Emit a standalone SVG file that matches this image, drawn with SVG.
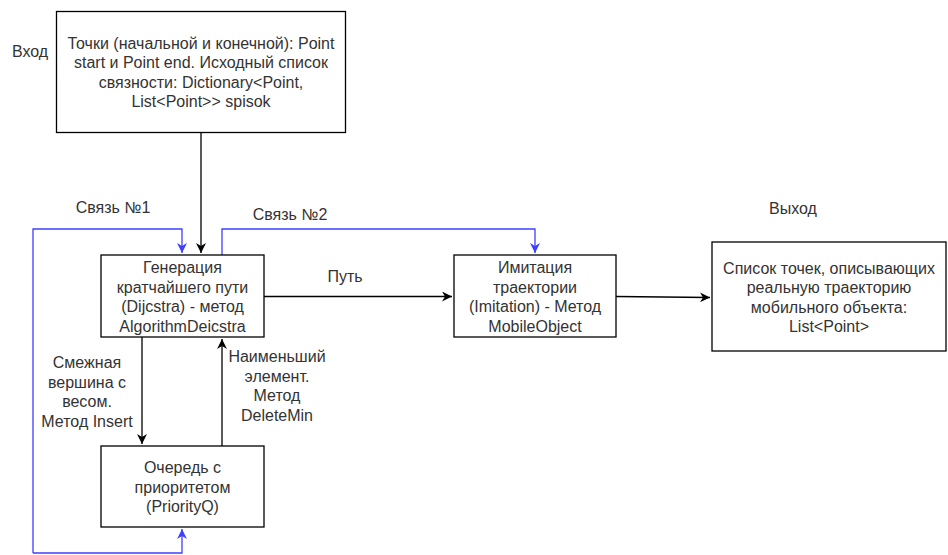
<svg xmlns="http://www.w3.org/2000/svg" width="948" height="555" viewBox="0 0 948 555">
<style>
.box{fill:#fff;stroke:#000;stroke-width:1.3}
.t{font-family:"Liberation Sans",Arial,sans-serif;font-size:16px;fill:#333;text-anchor:middle;dominant-baseline:central}
.k{fill:none;stroke:#000;stroke-width:1.3}
.b{fill:none;stroke:#3f3fff;stroke-width:1.3}
</style>
<defs>
<marker id="ak" markerWidth="12" markerHeight="10" refX="10" refY="5" orient="auto" markerUnits="userSpaceOnUse"><path d="M0,0 L10,5 L0,10 L3,5 Z" fill="#000"/></marker>
<marker id="ab" markerWidth="12" markerHeight="10" refX="10" refY="5" orient="auto" markerUnits="userSpaceOnUse"><path d="M0,0 L10,5 L0,10 L3,5 Z" fill="#3f3fff"/></marker>
</defs>
<rect width="948" height="555" fill="#fff"/>
<g id="connectors">
<path class="k" d="M201,132 V253" marker-end="url(#ak)"/>
<path class="b" d="M33,553 V229 H182 V253" marker-end="url(#ab)"/>
<path class="b" d="M33,553 H182 V529" marker-end="url(#ab)"/>
<path class="b" d="M222,255 V229 H535 V253" marker-end="url(#ab)"/>
<path class="k" d="M264,296.5 H452" marker-end="url(#ak)"/>
<path class="k" d="M616,296.5 L710,297.5" marker-end="url(#ak)"/>
<path class="k" d="M142,337 V444" marker-end="url(#ak)"/>
<path class="k" d="M222,446 V339" marker-end="url(#ak)"/>
</g>
<g id="lbl-vhod"><text class="t" x="30" y="51">Вход</text></g>
<g id="lbl-vyhod"><text class="t" x="793" y="208">Выход</text></g>
<g id="lbl-sv1"><text class="t" x="113" y="207">Связь №1</text></g>
<g id="lbl-sv2"><text class="t" x="290" y="214">Связь №2</text></g>
<g id="lbl-put"><text class="t" x="345" y="276">Путь</text></g>
<g id="lbl-insert"><text class="t" x="87"><tspan x="87" y="362">Смежная</tspan><tspan x="87" y="381.5">вершина с</tspan><tspan x="87" y="401">весом.</tspan><tspan x="87" y="420.5">Метод Insert</tspan></text></g>
<g id="lbl-delmin"><text class="t" x="277"><tspan x="277" y="356">Наименьший</tspan><tspan x="277" y="375.5">элемент.</tspan><tspan x="277" y="395">Метод</tspan><tspan x="277" y="414.5">DeleteMin</tspan></text></g>
<g id="n-input">
<rect class="box" x="56.5" y="11.5" width="289" height="121"/>
<text class="t"><tspan x="201" y="42.5">Точки (начальной и конечной): Point</tspan><tspan x="201" y="62">start и Point end. Исходный список</tspan><tspan x="201" y="81.5">связности: Dictionary&lt;Point,</tspan><tspan x="201" y="101">List&lt;Point&gt;&gt; spisok</tspan></text>
</g>
<g id="n-dijkstra">
<rect class="box" x="101" y="255" width="163" height="82"/>
<text class="t"><tspan x="182.5" y="267">Генерация</tspan><tspan x="182.5" y="286.5">кратчайшего пути</tspan><tspan x="182.5" y="306">(Dijcstra) - метод</tspan><tspan x="182.5" y="325.5">AlgorithmDeicstra</tspan></text>
</g>
<g id="n-imitation">
<rect class="box" x="454" y="255" width="162" height="82"/>
<text class="t"><tspan x="535" y="267">Имитация</tspan><tspan x="535" y="286.5">траектории</tspan><tspan x="535" y="306">(Imitation) - Метод</tspan><tspan x="535" y="325.5">MobileObject</tspan></text>
</g>
<g id="n-output">
<rect class="box" x="712" y="242" width="234" height="109"/>
<text class="t"><tspan x="829" y="267.5">Список точек, описывающих</tspan><tspan x="829" y="287">реальную траекторию</tspan><tspan x="829" y="306.5">мобильного объекта:</tspan><tspan x="829" y="326">List&lt;Point&gt;</tspan></text>
</g>
<g id="n-queue">
<rect class="box" x="101" y="446" width="163" height="81"/>
<text class="t"><tspan x="182.5" y="467">Очередь с</tspan><tspan x="182.5" y="486.5">приоритетом</tspan><tspan x="182.5" y="506">(PriorityQ)</tspan></text>
</g>
</svg>
